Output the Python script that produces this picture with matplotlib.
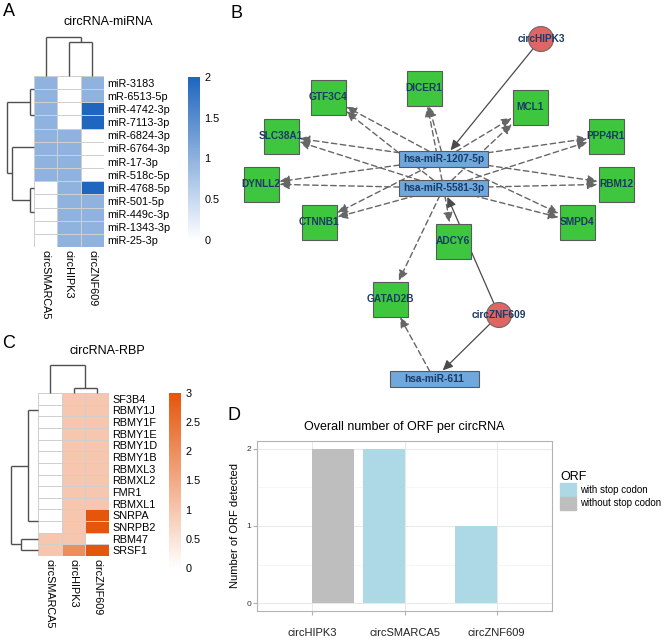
import numpy as np
import matplotlib
matplotlib.use('Agg')
import matplotlib.pyplot as plt
from matplotlib.colors import LinearSegmentedColormap
from matplotlib.collections import LineCollection
from matplotlib.patches import Rectangle, Circle, FancyArrowPatch, Patch

plt.rcParams['font.family'] = ['Liberation Sans', 'DejaVu Sans']

# ---- data ----
circs = ['circSMARCA5', 'circHIPK3', 'circZNF609']

mirnas = ['miR-3183', 'mR-6513-5p', 'miR-4742-3p', 'miR-7113-3p', 'miR-6824-3p',
          'miR-6764-3p', 'miR-17-3p', 'miR-518c-5p', 'miR-4768-5p', 'miR-501-5p',
          'miR-449c-3p', 'miR-1343-3p', 'miR-25-3p']
mirna_vals = [[1, 0, 1], [1, 0, 1], [1, 0, 2], [1, 0, 2], [1, 1, 0], [1, 1, 0], [1, 1, 0],
              [1, 1, 0], [0, 1, 2], [0, 1, 1], [0, 1, 1], [0, 1, 1], [0, 1, 1]]
# merges (left, right, height) like a linkage, heights relative to root
mirna_row_tree = [(0, 1, 0), (2, 3, 0), (13, 14, 0.15), (6, 7, 0), (5, 16, 0), (4, 17, 0),
                  (11, 12, 0), (10, 19, 0), (9, 20, 0), (8, 21, 0.15), (18, 22, 0.815),
                  (15, 23, 1.0)]
mirna_col_tree = [(1, 2, 0.87), (0, 3, 1.0)]

rbps = ['SF3B4', 'RBMY1J', 'RBMY1F', 'RBMY1E', 'RBMY1D', 'RBMY1B', 'RBMXL3', 'RBMXL2',
        'FMR1', 'RBMXL1', 'SNRPA', 'SNRPB2', 'RBM47', 'SRSF1']
rbp_vals = [[0, 1, 1]] * 10 + [[0, 1, 3], [0, 1, 3], [1, 1, 0], [1, 2, 3]]
rbp_row_tree = [(8, 9, 0), (7, 14, 0), (6, 15, 0), (5, 16, 0), (4, 17, 0), (3, 18, 0),
                (2, 19, 0), (1, 20, 0), (0, 21, 0), (10, 11, 0), (22, 23, 0.37),
                (12, 13, 0.63), (24, 25, 1.0)]
rbp_col_tree = [(1, 2, 0.18), (0, 3, 1.0)]

orf_circs = ['circHIPK3', 'circSMARCA5', 'circZNF609']
orf_with_stop = [0, 2, 1]
orf_without_stop = [2, 0, 0]

targets_1207 = ['GTF3C4', 'DICER1', 'MCL1', 'SLC38A1', 'PPP4R1', 'DYNLL2', 'RBM12',
                'CTNNB1', 'SMPD4']
targets_5581 = targets_1207 + ['ADCY6', 'GATAD2B']
targets_611 = ['GATAD2B']
circ_edges = [('circHIPK3', 'hsa-miR-1207-5p'), ('circZNF609', 'hsa-miR-5581-3p'),
              ('circZNF609', 'hsa-miR-611')]
# network layout (canvas units)
layout = {'circHIPK3': (541, 39), 'circZNF609': (499, 315),
          'hsa-miR-1207-5p': (443.5, 159), 'hsa-miR-5581-3p': (443.5, 188),
          'hsa-miR-611': (434, 379), 'DICER1': (424, 88), 'GTF3C4': (328, 97),
          'MCL1': (530, 107), 'SLC38A1': (281, 136), 'PPP4R1': (606, 136),
          'DYNLL2': (261, 184), 'RBM12': (616, 184), 'CTNNB1': (319, 222),
          'SMPD4': (577, 222), 'ADCY6': (453, 241), 'GATAD2B': (390, 299)}

W, H = 666, 644
fig = plt.figure(figsize=(W / 100, H / 100), dpi=100)


def px_axes(x0, y0, x1, y1):
    return fig.add_axes([x0 / W, 1 - y1 / H, (x1 - x0) / W, (y1 - y0) / H])


def dendro(ax, merges, n, orient):
    pos = [i + 0.5 for i in range(n)]
    hgt = [0.0] * n
    segs = []
    for a, b, h in merges:
        if h > 0:
            segs += [[(pos[a], hgt[a]), (pos[a], h)], [(pos[b], hgt[b]), (pos[b], h)],
                     [(pos[a], h), (pos[b], h)]]
        pos.append((pos[a] + pos[b]) / 2)
        hgt.append(h)
    if orient == 'left':
        segs = [[(y, x) for x, y in s] for s in segs]
        ax.set_xlim(1.0, 0)
        ax.set_ylim(n, 0)
    else:
        ax.set_xlim(0, n)
        ax.set_ylim(0, 1.0)
    ax.add_collection(LineCollection(segs, colors='#4f4f4f', linewidths=1.0, clip_on=False))
    ax.axis('off')


def heat(ax, vals, rows, cmap, vmax):
    arr = np.array(vals)
    ax.pcolormesh(np.arange(4), np.arange(len(rows) + 1), arr, cmap=cmap, vmin=0, vmax=vmax,
                  edgecolors='#cfcfcf', linewidth=0.7)
    ax.set_xlim(0, 3)
    ax.set_ylim(len(rows), 0)
    ax.set_yticks(np.arange(len(rows)) + 0.5, rows)
    ax.yaxis.tick_right()
    ax.set_xticks(np.arange(3) + 0.5, circs, rotation=270, va='top', ha='center')
    ax.tick_params(length=0, labelsize=7.8, pad=2.5)
    for s in ax.spines.values():
        s.set_visible(False)


def cbar(ax, cmap, vmax, ticks):
    grad = np.linspace(0, vmax, 256)[:, None]
    ax.imshow(grad, cmap=cmap, vmin=0, vmax=vmax, aspect='auto', origin='lower',
              extent=(0, 1, 0, vmax))
    ax.set_xticks([])
    ax.yaxis.tick_right()
    ax.set_yticks(ticks, [('%g' % t) for t in ticks])
    ax.tick_params(length=0, labelsize=7.8, pad=3)
    for s in ax.spines.values():
        s.set_visible(False)


blue = LinearSegmentedColormap.from_list('bl', ['#ffffff', '#1f66bf'])
orange = LinearSegmentedColormap.from_list('or', ['#ffffff', '#e5560d'])

# ---- panel A ----
heat(px_axes(34, 76, 104, 247), mirna_vals, mirnas, blue, 2)
dendro(px_axes(7, 76, 34, 247), mirna_row_tree, len(mirnas), 'left')
dendro(px_axes(34, 37, 104, 76), mirna_col_tree, 3, 'top')
cbar(px_axes(188, 77, 200, 240), blue, 2, [0, 0.5, 1, 1.5, 2])
fig.text(108 / W, 1 - 22 / H, 'circRNA-miRNA', ha='center', va='center', fontsize=9)

# ---- panel C ----
heat(px_axes(38, 393, 109, 556), rbp_vals, rbps, orange, 3)
dendro(px_axes(11, 393, 38, 556), rbp_row_tree, len(rbps), 'left')
dendro(px_axes(38, 365, 109, 393), rbp_col_tree, 3, 'top')
cbar(px_axes(169, 393, 181, 568), orange, 3, [0, 0.5, 1, 1.5, 2, 2.5, 3])
fig.text(107 / W, 1 - 351 / H, 'circRNA-RBP', ha='center', va='center', fontsize=9)

# ---- panel B ----
axb = px_axes(235, 0, 666, 400)
axb.set_xlim(235, 666)
axb.set_ylim(400, 0)
axb.axis('off')
patches = {}
for name, (x, y) in layout.items():
    if name.startswith('circ'):
        p = Circle((x, y), 12.5, fc='#e06663', ec='#6a6a6a', lw=0.8, zorder=2)
    elif name.startswith('hsa'):
        p = Rectangle((x - 44.5, y - 8), 89, 16, fc='#6fa8dc', ec='#5a5a5a', lw=0.8, zorder=2)
    else:
        p = Rectangle((x - 17.5, y - 17.5), 35, 35, fc='#3ec63e', ec='#5a5a5a', lw=0.8, zorder=2)
    axb.add_patch(p)
    patches[name] = p
    axb.text(x, y, name, ha='center', va='center', fontsize=7.3, fontweight='bold',
             color='#1b3a66', zorder=3)

edges = [('hsa-miR-1207-5p', t) for t in targets_1207] + \
        [('hsa-miR-5581-3p', t) for t in targets_5581] + \
        [('hsa-miR-611', t) for t in targets_611]
for src, dst in edges:
    axb.add_patch(FancyArrowPatch(layout[src], layout[dst], patchA=patches[src],
                                  patchB=patches[dst], shrinkA=0, shrinkB=1,
                                  arrowstyle='-|>,head_length=0.75,head_width=0.35',
                                  mutation_scale=8, color='#666666', lw=1.0,
                                  linestyle=(0, (4, 2.5)), zorder=1))
for src, dst in circ_edges:
    axb.add_patch(FancyArrowPatch(layout[src], layout[dst], patchA=patches[src],
                                  patchB=patches[dst], shrinkA=0, shrinkB=1,
                                  arrowstyle='-|>,head_length=0.75,head_width=0.35',
                                  mutation_scale=8, color='#4a4a4a', lw=0.9, zorder=1))

# ---- panel D ----
axd = px_axes(257, 441, 552, 611)
xs = np.arange(1, 4)
axd.bar(xs - 0.225, orf_with_stop, 0.45, color='#add8e6', lw=0, zorder=2)
axd.bar(xs + 0.225, orf_without_stop, 0.45, color='#bebebe', lw=0, zorder=2)
axd.set_xlim(0.4, 3.6)
axd.set_ylim(-0.1, 2.1)
axd.set_yticks([0, 1, 2])
axd.set_yticks([0.5, 1.5], minor=True)
axd.set_xticks(xs, orf_circs)
axd.grid(True, which='major', color='#e8e8e8', lw=0.7, zorder=0)
axd.grid(True, which='minor', axis='y', color='#f2f2f2', lw=0.5, zorder=0)
axd.set_axisbelow(True)
axd.tick_params(axis='x', length=3, color='#b3b3b3', labelsize=8, pad=9, labelcolor='#222222')
axd.tick_params(axis='y', length=3, color='#b3b3b3', labelsize=6, pad=1, labelcolor='#333333')
axd.tick_params(which='minor', length=0)
for s in axd.spines.values():
    s.set_color('#b3b3b3')
    s.set_linewidth(0.8)
axd.set_ylabel('Number of ORF detected', fontsize=8, labelpad=5)
axd.set_title('Overall number of ORF per circRNA', fontsize=9, pad=8)
handles = [Patch(color='#add8e6'), Patch(color='#bebebe')]
fig.legend(handles, ['with stop codon', 'without stop codon'], loc='upper left',
           bbox_to_anchor=(560 / W, 1 - 471 / H), frameon=False, title='ORF',
           alignment='left', fontsize=7, title_fontsize=9, handlelength=1.65,
           handleheight=1.65, handletextpad=0.4, labelspacing=0.05, borderaxespad=0,
           borderpad=0)

# panel letters
for lab, x, y in [('A', 9, 12), ('B', 236, 13), ('C', 9, 343), ('D', 234, 415)]:
    fig.text(x / W, 1 - y / H, lab, ha='center', va='center', fontsize=13)

fig.savefig('out.png', dpi=100)
